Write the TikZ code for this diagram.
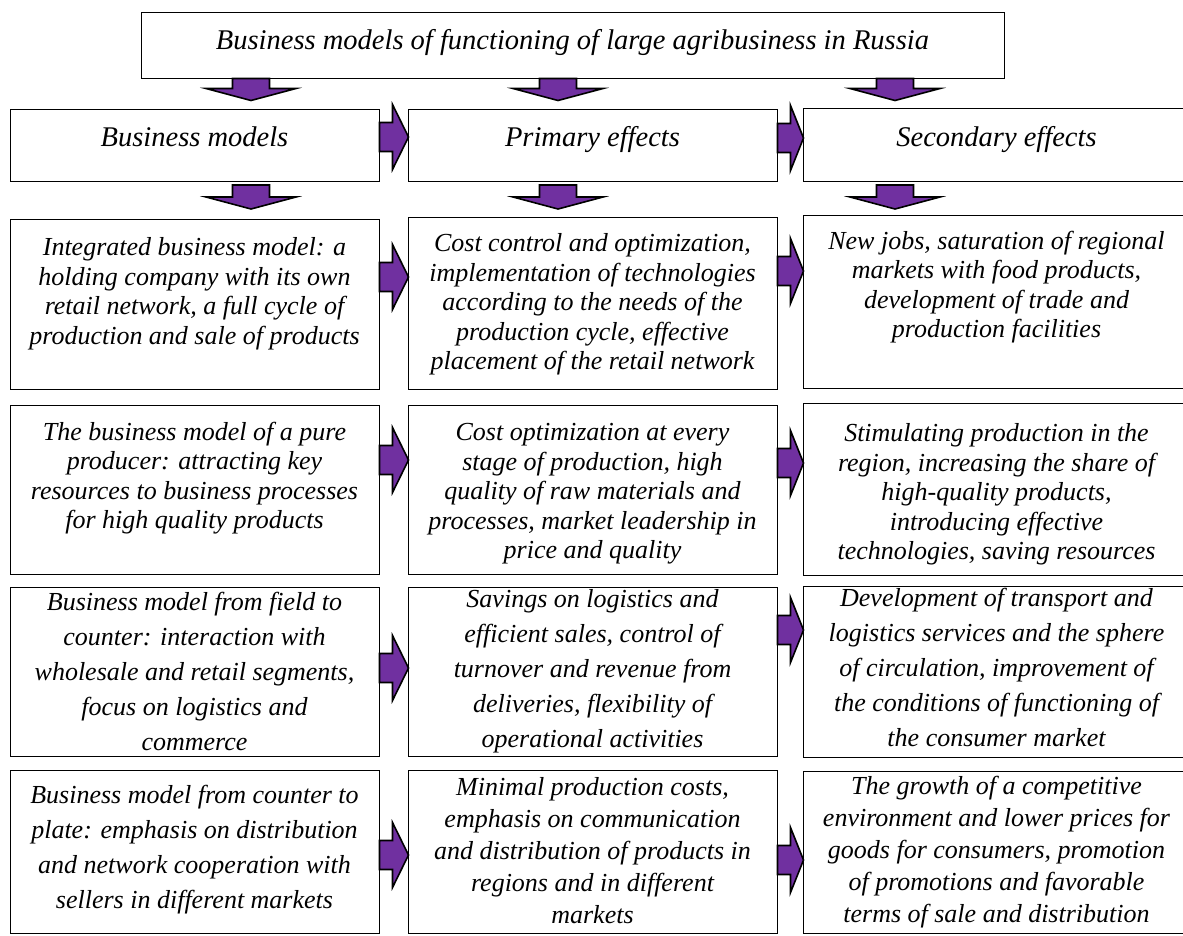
\documentclass[tikz,border=0pt]{standalone}
\usepackage{fontspec}
\setmainfont{Liberation Serif}
\usetikzlibrary{positioning}

\definecolor{arrowpurple}{HTML}{7030A0}

\tikzset{
    cell/.style={draw, line width=1pt, inner sep=0pt},
    headtext/.style={font=\itshape\fontsize{28.5}{33}\selectfont, align=center, inner sep=0pt},
    boxtext/.style={font=\itshape\fontsize{26}{29.5}\selectfont, align=center, inner sep=0pt},
    widetext/.style={font=\itshape\fontsize{26}{35}\selectfont, align=center, inner sep=0pt},
    lowtext/.style={font=\itshape\fontsize{26}{32}\selectfont, align=center, inner sep=0pt},
    blockarrow/.style={draw, line width=1.6pt, fill=arrowpurple}
}

% block arrows: start point, shaft length / total length
\newcommand{\downblock}[2]{\draw[blockarrow, shift={#1}] (-18.5,0) -- (-18.5,#2) -- (-45,#2) -- (0,#2+12) -- (45,#2) -- (18.5,#2) -- (18.5,0) -- cycle;}
\newcommand{\rightblock}[2]{\draw[blockarrow, shift={#1}] (0,-14.5) -- (13,-14.5) -- (13,-32.5) -- (#2,0) -- (13,32.5) -- (13,14.5) -- (0,14.5) -- cycle;}

\begin{document}
\begin{tikzpicture}[x=1pt, y=-1pt]
    \useasboundingbox (0,0) rectangle (1183,935);

    % title and column heads
    \node[cell, minimum width=863, minimum height=66] (title) at (572.5, 45) {};
    \node[headtext, below=18pt of title.north] (tt) {Business models of functioning of large agribusiness in Russia};
    \begin{scope}[every node/.style={cell, minimum height=72}]
        \node[minimum width=369] (h1) at (194.5, 145) {};
        \node[minimum width=369] (h2) at (592.5, 145) {};
        \node[minimum width=387, minimum height=73] (h3) at (996.5, 144.5) {};
    \end{scope}
    \node[headtext, below=18pt of h1.north] (th1) {Business models};
    \node[headtext, below=18pt of h2.north] (th2) {Primary effects};
    \node[headtext, below=19pt of h3.north] (th3) {Secondary effects};

    % boxes
    \begin{scope}[every node/.style={cell}]
        \node[minimum width=369, minimum height=170] (b11) at (194.5, 304) {};
        \node[minimum width=369, minimum height=169] (b21) at (194.5, 489.5) {};
        \node[minimum width=369, minimum height=169] (b31) at (194.5, 671.5) {};
        \node[minimum width=369, minimum height=163] (b41) at (194.5, 851.5) {};
        \node[minimum width=369, minimum height=172] (b12) at (592.5, 303) {};
        \node[minimum width=369, minimum height=169] (b22) at (592.5, 489.5) {};
        \node[minimum width=369, minimum height=169] (b32) at (592.5, 671.5) {};
        \node[minimum width=369, minimum height=163] (b42) at (592.5, 851.5) {};
        \node[minimum width=387, minimum height=173] (b13) at (996.5, 301.5) {};
        \node[minimum width=387, minimum height=172] (b23) at (996.5, 489) {};
        \node[minimum width=387, minimum height=171] (b33) at (996.5, 671.5) {};
        \node[minimum width=387, minimum height=162] (b43) at (996.5, 852) {};
    \end{scope}

    \node[boxtext, below=19pt of b11.north] (t11) {Integrated business model: a\\holding company with its own\\retail network, a full cycle of\\production and sale of products};
    \node[boxtext, below=17pt of b21.north] (t21) {The business model of a pure\\producer: attracting key\\resources to business processes\\for high quality products};
    \node[widetext, below=5pt of b31.north] (t31) {Business model from field to\\counter: interaction with\\wholesale and retail segments,\\focus on logistics and\\commerce};
    \node[widetext, below=15pt of b41.north] (t41) {Business model from counter to\\plate: emphasis on distribution\\and network cooperation with\\sellers in different markets};
    \node[boxtext, below=17pt of b12.north] (t12) {Cost control and optimization,\\implementation of technologies\\according to the needs of the\\production cycle, effective\\placement of the retail network};
    \node[boxtext, below=19pt of b22.north] (t22) {Cost optimization at every\\stage of production, high\\quality of raw materials and\\processes, market leadership in\\price and quality};
    \node[widetext, below=3pt of b32.north] (t32) {Savings on logistics and\\efficient sales, control of\\turnover and revenue from\\deliveries, flexibility of\\operational activities};
    \node[lowtext, below=8pt of b42.north] (t42) {Minimal production costs,\\emphasis on communication\\and distribution of products in\\regions and in different\\markets};
    \node[boxtext, below=16pt of b13.north] (t13) {New jobs, saturation of regional\\markets with food products,\\development of trade and\\production facilities};
    \node[boxtext, below=21pt of b23.north] (t23) {Stimulating production in the\\region, increasing the share of\\high-quality products,\\introducing effective\\technologies, saving resources};
    \node[widetext, below=2pt of b33.north] (t33) {Development of transport and\\logistics services and the sphere\\of circulation, improvement of\\the conditions of functioning of\\the consumer market};
    \node[lowtext, below=5pt of b43.north] (t43) {The growth of a competitive\\environment and lower prices for\\goods for consumers, promotion\\of promotions and favorable\\terms of sale and distribution};

    % arrows down
    \downblock{(title.south -| 251,0)}{10}
    \downblock{(title.south -| 558,0)}{10}
    \downblock{(title.south -| 895,0)}{10}
    \downblock{(251,185)}{12}
    \downblock{(558,185)}{12}
    \downblock{(895,185)}{12}

    % arrows right
    \rightblock{(h1.east |- 0,137)}{29}
    \rightblock{(h2.east |- 0,138)}{26}
    \rightblock{(b11.east |- 0,277)}{29}
    \rightblock{(b12.east |- 0,271)}{26}
    \rightblock{(b21.east |- 0,460)}{29}
    \rightblock{(b22.east |- 0,463)}{26}
    \rightblock{(b31.east |- 0,668)}{29}
    \rightblock{(b32.east |- 0,630)}{26}
    \rightblock{(b41.east |- 0,855)}{29}
    \rightblock{(b42.east |- 0,860)}{26}
\end{tikzpicture}
\end{document}
